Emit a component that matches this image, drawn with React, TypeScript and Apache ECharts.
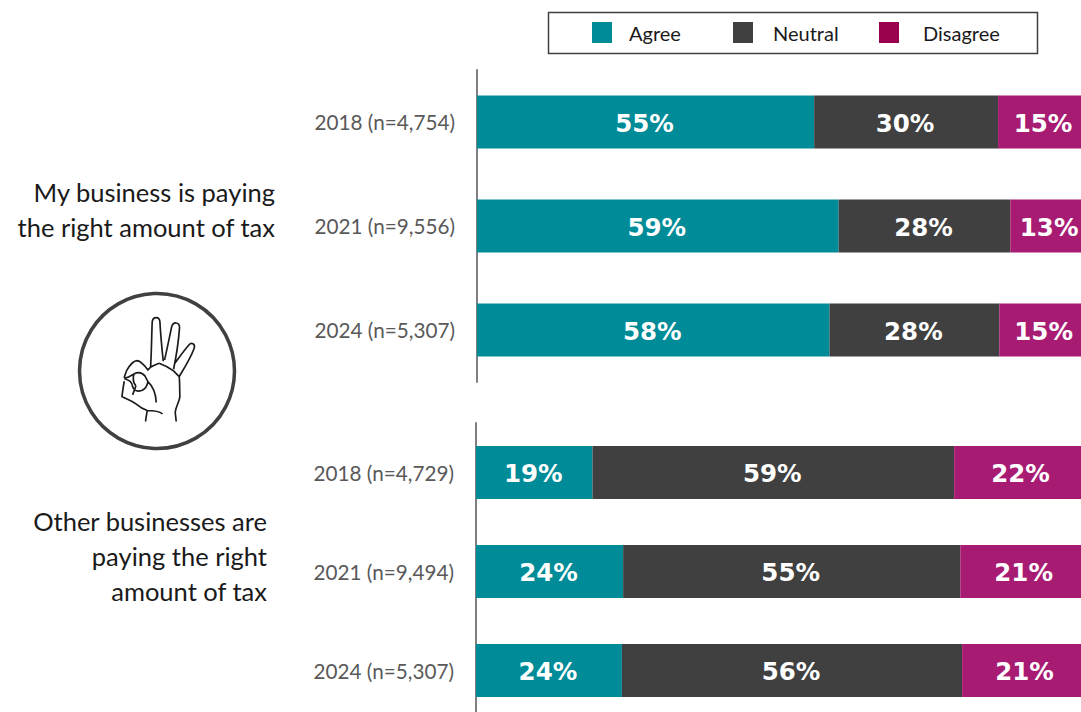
import React, { useEffect, useRef } from "react";
import * as echarts from "echarts";

const seriesNames = ["Agree", "Neutral", "Disagree"];
const topCategories = ["2018 (n=4,754)", "2021 (n=9,556)", "2024 (n=5,307)"];
const bottomCategories = ["2018 (n=4,729)", "2021 (n=9,494)", "2024 (n=5,307)"];
const topAgree = [55, 59, 57.5];
const topNeutral = [30, 28, 27.7];
const topDisagree = [15, 13, 14.8];
const bottomAgree = [19, 24, 23.8];
const bottomNeutral = [59, 55, 55.5];
const bottomDisagree = [22, 21, 20.7];
const barColors = ["#008b98", "#404040", "#a81b72"];
const legendColors = ["#008b98", "#404040", "#99004d"];
const topLabel = "My business is paying\nthe right amount of tax";
const bottomLabel = "Other businesses are\npaying the right\namount of tax";

const FONT = "Lato";
const handPath =
  "M272 262 C275 215 275 165 277 125 C279 110 298 108 300 125 C302 165 306 205 310 244 " +
  "M314 240 C322 205 328 175 335 142 C339 124 360 125 359 143 C356 185 350 225 341 268 " +
  "M345 250 C358 232 372 212 387 195 C394 187 407 190 403 205 C392 235 375 262 358 290 " +
  "C360 310 359 330 360 350 C358 368 347 380 346 398 L349 425 " +
  "M298 250 C312 255 328 264 341 273 L358 290 " +
  "M298 250 C290 252 283 256 272 262 L264 270 C255 258 245 244 232 242 C218 242 208 258 200 272 L193 292 " +
  "C200 298 212 288 222 282 C235 275 245 276 255 288 L264 305 C280 320 288 340 289 368 " +
  "M193 296 C204 300 215 302 218 320 C222 332 232 336 245 332 C255 328 262 318 264 305 " +
  "M222 282 C218 295 220 308 228 318 M193 304 C190 320 188 335 186 350 C200 358 215 362 228 372 " +
  "C240 382 250 388 262 392 C278 392 295 392 308 402 M262 392 C260 403 258 414 257 425 M228 318 L218 345";

echarts.graphic.registerShape("hand", (echarts.graphic as any).extendPath(handPath, {}));

function barSeries(name: string, data: number[], color: string, idx: number) {
  return {
    name,
    type: "bar",
    stack: "s" + idx,
    xAxisIndex: idx,
    yAxisIndex: idx,
    barWidth: 53,
    data,
    itemStyle: { color },
    label: {
      show: true,
      position: "inside",
      offset: [-1, 1],
      color: "#ffffff",
      fontFamily: "DejaVu Sans",
      fontWeight: "bold",
      fontSize: 24.5,
      formatter: (p: any) => Math.round(p.value) + "%",
    },
  };
}

function legendEntry(i: number, left: number, gap: number) {
  return {
    left,
    top: 22,
    padding: 0,
    itemWidth: 20,
    itemHeight: 21,
    selectedMode: false,
    icon: "rect",
    data: [{ name: seriesNames[i], itemStyle: { color: legendColors[i] } }],
    textStyle: { fontFamily: FONT, fontSize: 20, color: "#1a1a1a", padding: [0, 0, 0, gap] },
  };
}

export default function App() {
  const ref = useRef<HTMLDivElement>(null);
  useEffect(() => {
    const chart = echarts.init(ref.current!, null, { renderer: "svg" });
    const axisLabel = { color: "#595959", fontFamily: FONT, fontSize: 20.7, margin: 22 };
    const yAxisBase = {
      type: "category",
      inverse: true,
      axisTick: { show: false },
      axisLine: { show: true, lineStyle: { color: "#7f7f7f", width: 2 } },
    };
    const xAxisBase = { type: "value", min: 0, max: 100, show: false };
    chart.setOption({
      animation: false,
      backgroundColor: "#ffffff",
      legend: [legendEntry(0, 592, 12), legendEntry(1, 733, 15), legendEntry(2, 879, 19)],
      grid: [
        { left: 477, top: 70, width: 613, height: 312, outerBoundsMode: "none" },
        { left: 476, top: 423, width: 613, height: 297, outerBoundsMode: "none" },
      ],
      xAxis: [{ ...xAxisBase, gridIndex: 0 }, { ...xAxisBase, gridIndex: 1 }],
      yAxis: [
        { ...yAxisBase, gridIndex: 0, data: topCategories, axisLabel },
        { ...yAxisBase, gridIndex: 1, data: bottomCategories, axisLabel: { ...axisLabel, padding: [0, 0, 2, 0] } },
      ],
      series: [
        barSeries(seriesNames[0], topAgree, barColors[0], 0),
        barSeries(seriesNames[1], topNeutral, barColors[1], 0),
        barSeries(seriesNames[2], topDisagree, barColors[2], 0),
        barSeries(seriesNames[0], bottomAgree, barColors[0], 1),
        barSeries(seriesNames[1], bottomNeutral, barColors[1], 1),
        barSeries(seriesNames[2], bottomDisagree, barColors[2], 1),
      ],
      graphic: [
        {
          type: "rect",
          shape: { x: 548.5, y: 12.5, width: 489, height: 41 },
          style: { fill: "none", stroke: "#404040", lineWidth: 1.5 },
        },
        {
          type: "text",
          x: 275,
          y: 174,
          style: { text: topLabel, textAlign: "right", fontFamily: FONT, fontSize: 25.5, lineHeight: 35, fill: "#1a1a1a" },
        },
        {
          type: "text",
          x: 267,
          y: 503,
          style: { text: bottomLabel, textAlign: "right", fontFamily: FONT, fontSize: 25.5, lineHeight: 35, fill: "#1a1a1a" },
        },
        {
          type: "circle",
          shape: { cx: 157, cy: 371, r: 77.5 },
          style: { fill: "none", stroke: "#404040", lineWidth: 3.5 },
        },
        {
          type: "hand",
          x: 60,
          y: 280,
          scaleX: 1 / 3,
          scaleY: 1 / 3,
          style: { fill: "none", stroke: "#1a1a1a", lineWidth: 5 },
        },
      ],
    });
    return () => chart.dispose();
  }, []);
  return (
    <div
      ref={ref}
      style={{ position: "absolute", left: 0, top: 0, width: 1081, height: 712, overflow: "hidden" }}
    />
  );
}
